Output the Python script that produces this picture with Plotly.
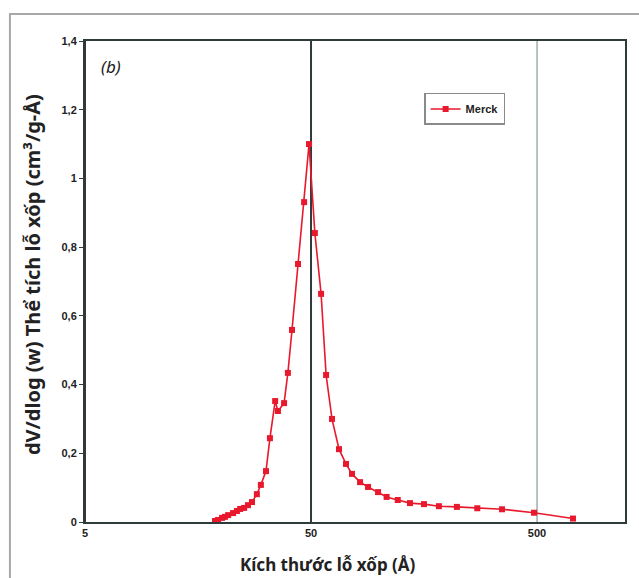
import plotly.graph_objects as go
import math

# Pore size (Å) and dV/dlog(w) values
pore_size = [18.8, 19.4, 20.2, 20.8, 21.5, 22.6, 23.5, 24.3, 25.3, 26.3, 27.4, 28.8,
             30.0, 31.6, 32.9, 34.7, 35.7, 38.0, 39.5, 41.2, 43.8, 46.6, 49.0,
             52.0, 55.4, 58.3, 61.9, 66.5, 71.4, 75.9, 82.4, 89.4, 99, 108, 121,
             137, 158, 184, 221, 272, 350, 485, 721]
merck = [0.003, 0.006, 0.012, 0.015, 0.020, 0.026, 0.032, 0.038, 0.041, 0.049, 0.058, 0.081,
         0.108, 0.148, 0.244, 0.352, 0.323, 0.346, 0.434, 0.559, 0.751, 0.931, 1.10,
         0.841, 0.664, 0.428, 0.300, 0.212, 0.169, 0.140, 0.116, 0.102, 0.087, 0.073, 0.064,
         0.055, 0.052, 0.046, 0.044, 0.040, 0.037, 0.027, 0.010]

x_ticks = [5, 50, 500]
x_ticktext = ["5", "50", "500"]
y_ticks = [0, 0.2, 0.4, 0.6, 0.8, 1.0, 1.2, 1.4]
y_ticktext = ["0", "0,2", "0,4", "0,6", "0,8", "1", "1,2", "1,4"]
grid_colors = ["#2f3a3a", "#2f3a3a", "#8a9898"]
grid_widths = [2, 2, 1.2]

red = "#e8192c"
axis_col = "#2f3a3a"

fig = go.Figure()
fig.add_trace(go.Scatter(
    x=pore_size, y=merck, mode="lines+markers", name="Merck",
    line=dict(color=red, width=1.6),
    marker=dict(symbol="square", size=6, color=red),
))

shapes = []
for v, c, w in zip(x_ticks, grid_colors, grid_widths):
    shapes.append(dict(type="line", xref="x", yref="paper", x0=v, x1=v, y0=0, y1=1,
                       line=dict(color=c, width=w), layer="below"))
# outer frame (right and bottom edges fall outside the page)
shapes.append(dict(type="rect", xref="paper", yref="paper",
                   x0=-0.139, x1=1.5, y0=-0.5, y1=1.056,
                   line=dict(color="#a8a8a8", width=2), layer="below"))

fig.update_layout(
    width=639, height=578,
    margin=dict(l=85, r=14, t=41, b=56),
    paper_bgcolor="white", plot_bgcolor="white",
    showlegend=True,
    legend=dict(x=0.628, y=0.892, xanchor="left", yanchor="top",
                bordercolor="#8a8a8a", borderwidth=1.5, bgcolor="white",
                font=dict(family="Liberation Sans", size=11, color="#222", weight="bold"),
                itemwidth=30, tracegroupgap=0),
    shapes=shapes,
    xaxis=dict(type="log", range=[math.log10(5), math.log10(1225)],
               tickvals=x_ticks, ticktext=x_ticktext, showgrid=False, zeroline=False,
               showline=True, linecolor=axis_col, linewidth=2, mirror=True,
               ticks="", tickfont=dict(family="Liberation Sans", size=11, color="#222", weight="bold")),
    yaxis=dict(range=[0, 1.4], tickvals=y_ticks, ticktext=y_ticktext, showgrid=False,
               zeroline=False, showline=True, linecolor=axis_col, linewidth=2, mirror=True,
               ticks="outside", ticklen=4, tickcolor=axis_col,
               tickfont=dict(family="Liberation Sans", size=11, color="#222", weight="bold")),
    annotations=[
        dict(text="Kích thước lỗ xốp (Å)", xref="paper", yref="paper", x=0.45, y=-0.06,
             xanchor="center", yanchor="top", showarrow=False,
             font=dict(family="Noto Sans", size=17, color="#222", weight="bold")),
        dict(text="dV/dlog (w) Thể tích lỗ xốp (cm³/g-Å)", xref="paper", yref="paper",
             x=-0.068, y=0.515, textangle=-90, xanchor="right", yanchor="middle", showarrow=False,
             font=dict(family="Noto Sans", size=20, color="#222", weight="bold")),
        dict(text="(b)", xref="paper", yref="paper", x=0.025, y=0.975, xanchor="left",
             yanchor="top", showarrow=False,
             font=dict(family="Noto Sans", size=17, color="#222", style="italic")),
    ],
)

fig.write_html("out.html", post_script="document.body.style.margin='0';",
               config={"displayModeBar": False})
